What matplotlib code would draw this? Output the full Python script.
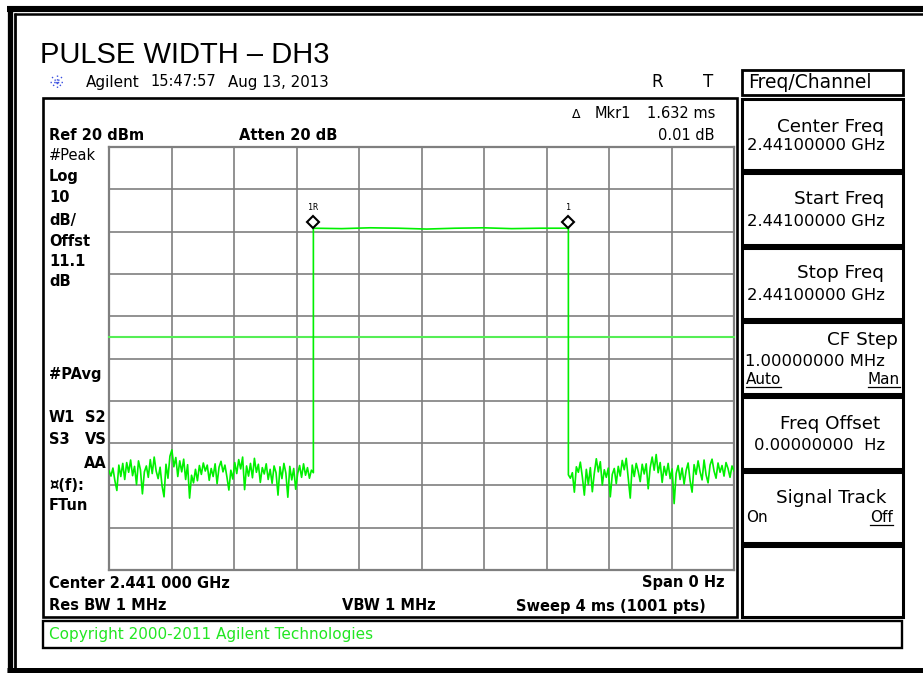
"""Agilent zero-span pulse width capture (DH3), redrawn with matplotlib."""

import numpy as np
import matplotlib

matplotlib.use("Agg")
import matplotlib.pyplot as plt
from matplotlib.patches import Rectangle
from matplotlib.transforms import offset_copy

W, H = 923, 673

# sweep settings
sweep_ms = 4.0
ref_dbm = 20.0
db_per_div = 10.0
n_div = 10

rise_ms = 1.308
fall_ms = 2.940
display_line_dbm = -25.0

# trace values (dBm)
left_noise_dbm = [
    -56.5, -57.8, -55.9, -58.9, -61.2, -55.2, -57.9, -54.8, -58.6, -54.6,
    -56.9, -54.0, -57.7, -55.5, -59.8, -54.2, -56.3, -62.0, -56.8, -55.4,
    -58.1, -53.9, -57.2, -53.3, -56.6, -58.4, -55.7, -60.1, -62.7, -55.0,
    -58.3, -53.1, -51.6, -55.6, -53.4, -57.9, -54.2, -56.8, -53.8, -58.6,
    -55.1, -63.0, -57.6, -59.4, -56.2, -58.9, -55.3, -57.4, -54.7, -56.6,
    -55.2, -58.8, -56.0, -57.9, -54.9, -59.6, -55.7, -54.3, -56.8, -55.2,
    -58.0, -61.1, -56.4, -58.5, -54.6, -57.2, -53.9, -56.1, -53.3, -61.0,
    -55.4, -57.8, -54.8, -58.2, -53.6, -56.9, -55.0, -59.3, -55.8, -57.3,
    -54.9, -58.6, -56.2, -59.5, -55.4, -57.0, -62.3, -55.6, -58.4, -54.8,
    -57.1, -62.8, -55.5, -58.7, -56.0, -60.9, -57.2, -55.3, -58.1, -54.9,
    -57.6, -55.8, -58.3, -56.4, -57.0,
]
pulse_dbm = [0.8, 0.7, 0.9, 0.8, 0.6, 0.8, 0.9, 0.7, 0.8, 0.8]
right_noise_dbm = [
    -57.5, -58.3, -57.0, -61.6, -55.6, -56.9, -54.5, -58.0, -62.3, -56.2,
    -59.8, -55.8, -61.5, -57.1, -53.7, -56.8, -54.4, -59.9, -56.3, -58.1,
    -55.9, -62.7, -57.4, -56.0, -59.6, -55.5, -57.8, -54.1, -56.3, -53.6,
    -58.2, -63.0, -55.2, -57.9, -54.8, -56.7, -59.1, -55.0, -57.3, -54.9,
    -60.8, -55.8, -53.3, -56.4, -52.7, -57.0, -54.6, -59.3, -55.5, -57.6,
    -54.8, -58.4, -56.1, -64.3, -57.2, -55.3, -58.6, -55.9, -59.7, -56.5,
    -54.7, -58.9, -61.6, -55.1, -57.4, -54.2, -56.8, -58.7, -54.0, -57.5,
    -59.4, -55.2, -53.8, -56.6, -58.3, -54.7, -56.9, -55.3, -57.8, -54.6,
    -56.0, -58.1, -55.4, -56.6,
]

marker_ms = [rise_ms, fall_ms]
marker_labels = ["1R", "1"]

softkey_titles = ["Center Freq", "Start Freq", "Stop Freq", "CF Step",
                  "Freq Offset", "Signal Track", ""]
softkey_values = ["2.44100000 GHz", "2.44100000 GHz", "2.44100000 GHz",
                  "1.00000000 MHz", "0.00000000  Hz", "", ""]

GREEN = "#00f000"
GRID = "#7f7f7f"
FONT = "DejaVu Sans"

fig = plt.figure(figsize=(W / 100, H / 100), dpi=100)
bg = fig.add_axes([0, 0, 1, 1])
bg.set_xlim(0, W)
bg.set_ylim(H, 0)
bg.axis("off")


def box(x0, y0, x1, y1, lw=2.0, ec="black"):
    bg.add_patch(Rectangle((x0, y0), x1 - x0, y1 - y0, fill=False, lw=lw, ec=ec))


def txt(x, y, s, size=10.5, bold=False, ha="left", color="black", family=FONT):
    return bg.text(x, y, s, fontsize=size, ha=ha, va="center", color=color,
                   family=family, fontweight="bold" if bold else "normal")


# outer double frame
bg.plot([7, W], [9, 9], color="black", lw=4.4, solid_capstyle="butt")
bg.plot([9.5, 9.5], [6, H], color="black", lw=3.8, solid_capstyle="butt")
bg.plot([13.5, W], [14, 14], color="black", lw=1.8, solid_capstyle="butt")
bg.plot([14.5, 14.5], [13, H], color="black", lw=2.0, solid_capstyle="butt")
bg.plot([7, W], [670, 670], color="black", lw=3.6, solid_capstyle="butt")

# title and header
bg.text(40, 63, "PULSE WIDTH \u2013 DH3", fontsize=21, family="Liberation Sans",
        ha="left", va="baseline")
cx, cy = 57, 82
for ang in np.deg2rad([0, 45, 90, 135]):
    dx, dy = 7 * np.cos(ang), 7 * np.sin(ang)
    bg.plot([cx - dx, cx + dx], [cy - dy, cy + dy], color="#3a4fe0", lw=1.0, ls=":")
txt(86, 82, "Agilent", size=11)
txt(150, 82, "15:47:57", size=10.5)
txt(228, 82, "Aug 13, 2013", size=10.8)
txt(657, 82, "R", size=12, ha="center")
txt(708, 82, "T", size=12, ha="center")

# screen frame and status bar
box(43, 98, 737, 617, lw=1.9)
box(43, 621, 902, 648, lw=1.7)
txt(49, 635, "Copyright 2000-2011 Agilent Technologies", size=11, color="#22e622")

# left-side annotations
txt(49, 136, "Ref 20 dBm", bold=True)
txt(239, 136, "Atten 20 dB", bold=True)
txt(49, 155, "#Peak")
for y, s in [(177, "Log"), (198, "10"), (220, "dB/"), (242, "Offst"),
             (262, "11.1"), (282, "dB"), (375, "#PAvg"), (418, "W1"),
             (440, "S3"), (486, "\u00a4(f):"), (506, "FTun")]:
    txt(49, y, s, bold=True)
txt(85, 418, "S2", bold=True)
txt(85, 440, "VS", bold=True)
txt(107, 463, "AA", bold=True, ha="right")
txt(49, 583, "Center 2.441 000 GHz", bold=True)
txt(49, 606, "Res BW 1 MHz", bold=True)
txt(342, 606, "VBW 1 MHz", bold=True)
txt(725, 583, "Span 0 Hz", bold=True, ha="right")
txt(706, 607, "Sweep 4 ms (1001 pts)", bold=True, ha="right")

# marker readout
txt(572, 114, "\u0394", size=9)
txt(595, 113, "Mkr1")
txt(715, 113, "1.632 ms", ha="right")
txt(715, 136, "0.01 dB", ha="right")

# softkey panel
box(742, 70, 903, 95, lw=2.0)
txt(748, 83, "Freq/Channel", size=13.5)
tops = [99, 173, 248, 322, 397, 472, 546]
bottoms = tops[1:] + [620]
title_dy = [28, 26, 25, 18, 27, 26, 0]
value_dy = [46, 48, 48, 39, 48, 0, 0]
title_x = [884, 884, 884, 898, 880, 886, 0]
underlined = []
for i, top in enumerate(tops):
    box(742, top, 903, bottoms[i] - 3, lw=2.2)
    if softkey_titles[i]:
        txt(title_x[i], top + title_dy[i], softkey_titles[i], size=13.2, ha="right")
    if softkey_values[i]:
        txt(885, top + value_dy[i], softkey_values[i], size=11.8, ha="right")
underlined.append(txt(746, tops[3] + 58, "Auto", size=11))
underlined.append(txt(900, tops[3] + 58, "Man", size=11, ha="right"))
txt(746, tops[5] + 46, "On", size=11)
underlined.append(txt(893, tops[5] + 46, "Off", size=11, ha="right"))

# trace area
ax = fig.add_axes([109 / W, 1 - 570 / H, 625 / W, 423 / H])
ax.set_xlim(0, sweep_ms)
ax.set_ylim(ref_dbm - n_div * db_per_div, ref_dbm)
ax.set_xticks(np.linspace(0, sweep_ms, n_div + 1))
ax.set_yticks(np.linspace(ref_dbm - n_div * db_per_div, ref_dbm, n_div + 1))
ax.tick_params(length=0, labelbottom=False, labelleft=False)
ax.grid(True, color=GRID, lw=1.2)
for sp in ax.spines.values():
    sp.set_color(GRID)
    sp.set_linewidth(1.6)

t = np.concatenate([
    np.linspace(0, rise_ms, len(left_noise_dbm)),
    np.linspace(rise_ms, fall_ms, len(pulse_dbm)),
    np.linspace(fall_ms, sweep_ms, len(right_noise_dbm)),
])
trace = np.concatenate([left_noise_dbm, pulse_dbm, right_noise_dbm])
ax.axhline(display_line_dbm, color="#55ee55", lw=1.5, zorder=3, clip_on=False)
ax.plot(t, trace, color=GREEN, lw=1.2, zorder=4)

marker_levels = [pulse_dbm[0], pulse_dbm[-1]]
up = offset_copy(ax.transData, fig=fig, y=6, units="dots")
lab = offset_copy(ax.transData, fig=fig, y=21, units="dots")
ax.plot(marker_ms, marker_levels, ls="none", marker="D", ms=6.5, mfc="white",
        mec="black", mew=1.5, transform=up, zorder=5, clip_on=False)
for m, lv, s in zip(marker_ms, marker_levels, marker_labels):
    ax.text(m, lv, s, transform=lab, fontsize=6, family="DejaVu Sans Mono",
            ha="center", va="center", zorder=5)

# underline the selected softkey states
fig.canvas.draw()
r = fig.canvas.get_renderer()
inv = bg.transData.inverted()
for tx in underlined:
    bb = tx.get_window_extent(r)
    (x0, y0), (x1, _) = inv.transform([(bb.x0, bb.y0), (bb.x1, bb.y1)])
    bg.plot([x0, x1], [y0 - 1, y0 - 1], color="black", lw=0.9)

fig.savefig("out.png", dpi=100)
